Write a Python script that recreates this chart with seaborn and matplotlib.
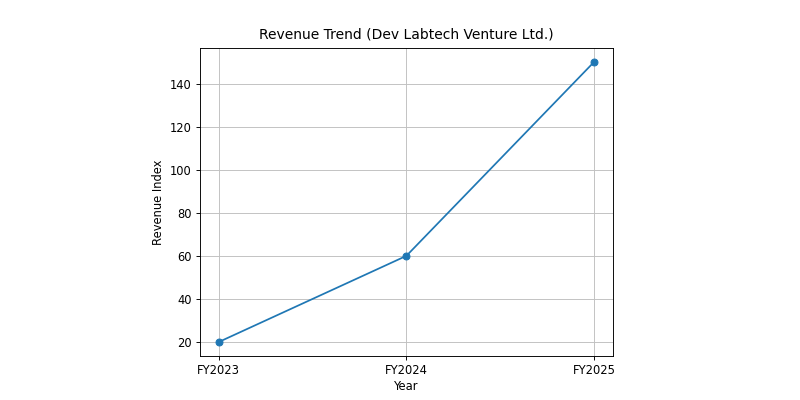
import matplotlib
matplotlib.use("Agg")
import matplotlib.pyplot as plt
import seaborn as sns
import pandas as pd

years = ["FY2023", "FY2024", "FY2025"]
revenue_index = [20, 60, 150]

df = pd.DataFrame({"Year": years, "Revenue Index": revenue_index})

s = 0.83
plt.rcParams.update({
    "axes.linewidth": 0.8 * s,
    "xtick.major.width": 0.8 * s,
    "ytick.major.width": 0.8 * s,
    "xtick.major.size": 3.5 * s,
    "ytick.major.size": 3.5 * s,
    "xtick.major.pad": 3.5 * s,
    "ytick.major.pad": 3.5 * s,
})

fig, ax = plt.subplots(figsize=(8, 4), dpi=100)
fig.subplots_adjust(left=0.25, right=0.766, top=0.88, bottom=0.11)
sns.lineplot(data=df, x="Year", y="Revenue Index", marker="o", color="#1f77b4",
             markeredgecolor="#1f77b4", markersize=6 * s, linewidth=1.5 * s, ax=ax, sort=False)
ax.set_title("Revenue Trend (Dev Labtech Venture Ltd.)", fontsize=12 * s, pad=6.5)
ax.set_xlabel("Year", fontsize=10 * s, labelpad=1.8)
ax.set_ylabel("Revenue Index", fontsize=10 * s, labelpad=3.3)
ax.tick_params(labelsize=10 * s)
ax.grid(True, color="#c0c0c0", linewidth=0.8 * s)
fig.savefig("out.png", dpi=100)
